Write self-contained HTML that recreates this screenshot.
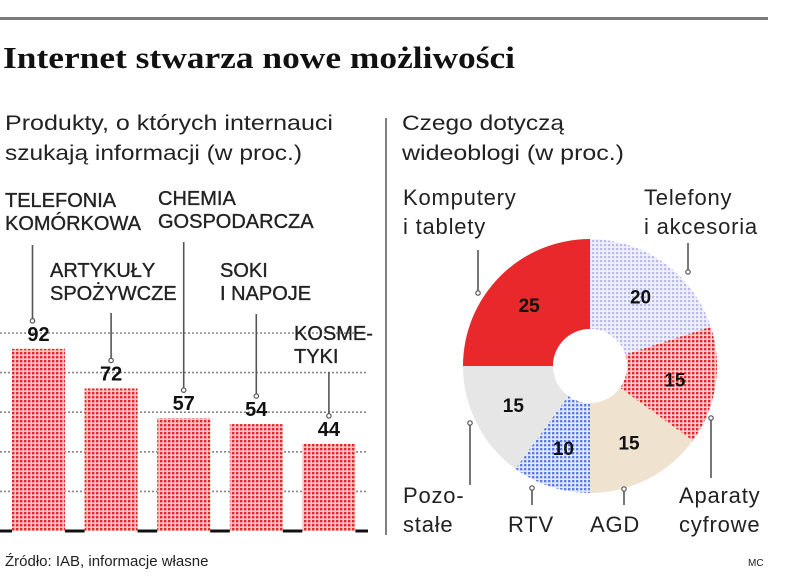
<!DOCTYPE html>
<html><head><meta charset="utf-8"><style>
html,body{margin:0;padding:0;background:#fff;}
svg{display:block;font-family:"Liberation Sans",sans-serif;}
</style></head><body>
<svg id="c" width="805" height="582" viewBox="0 0 805 582">
<defs>
<pattern id="pRed" width="4" height="4" patternUnits="userSpaceOnUse"><rect width="4" height="4" fill="#f7c9c9"/><rect width="2.4" height="2.4" fill="#e2282a"/></pattern>
<pattern id="pRed2" width="4" height="4" patternUnits="userSpaceOnUse"><rect width="4" height="4" fill="#f6d2d2"/><rect width="2.4" height="2.4" fill="#e02a2a"/></pattern>
<pattern id="pLav" width="4" height="4" patternUnits="userSpaceOnUse"><rect width="4" height="4" fill="#f0f0fb"/><rect width="2.2" height="2.2" fill="#b9b9ee"/></pattern>
<pattern id="pBlue" width="4" height="4" patternUnits="userSpaceOnUse"><rect width="4" height="4" fill="#e6ebfb"/><rect width="2.4" height="2.4" fill="#5e7be6"/></pattern>
</defs>
<rect x="0" y="17" width="768" height="3" fill="#7a7a7a"/>
<text x="3" y="68" font-family="Liberation Serif,serif" font-weight="bold" font-size="31" fill="#111" textLength="512" lengthAdjust="spacingAndGlyphs">Internet stwarza nowe możliwości</text>
<g font-size="21" fill="#222">
<text x="5" y="130" textLength="328" lengthAdjust="spacingAndGlyphs">Produkty, o których internauci</text>
<text x="5" y="160" textLength="297" lengthAdjust="spacingAndGlyphs">szukają informacji (w proc.)</text></g>
<g font-size="21" fill="#222">
<text x="402" y="130" textLength="162" lengthAdjust="spacingAndGlyphs">Czego dotyczą</text>
<text x="402" y="160" textLength="222" lengthAdjust="spacingAndGlyphs">wideoblogi (w proc.)</text></g>
<line x1="386" y1="118" x2="386" y2="535" stroke="#555" stroke-width="1.5"/>
<g id="bars"></g>
<g id="pie"></g>
<text x="5" y="566" font-size="15" fill="#222">Źródło: IAB, informacje własne</text>
<text x="748" y="566" font-size="10" fill="#222">MC</text>
</svg>
<script>
const categories = ["TELEFONIA KOMÓRKOWA","ARTYKUŁY SPOŻYWCZE","CHEMIA GOSPODARCZA","SOKI I NAPOJE","KOSMETYKI"];
const values = [92,72,57,54,44];
const gridTicks = [20,40,60,80,100];
const pieLabels = ["Telefony i akcesoria","Aparaty cyfrowe","AGD","RTV","Pozostałe","Komputery i tablety"];
const pieValues = [20,15,15,10,15,25];

const NS="http://www.w3.org/2000/svg";
function mk(t,a,p){const e=document.createElementNS(NS,t);for(const k in a)e.setAttribute(k,a[k]);p.appendChild(e);return e;}
const bars=document.getElementById('bars');
const y0=531, k=1.98;
const Y=v=>y0-v*k;
const X=i=>12+i*72.6;
const bw=53;
gridTicks.forEach(t=>{
  const l=mk('line',{x1:0,x2:368,y1:Y(t),y2:Y(t),stroke:'#888','stroke-width':1.6,'stroke-dasharray':'2 2'},bars);
  
  
});
const lab=[[["TELEFONIA","KOMÓRKOWA"],5,207,245],[["ARTYKUŁY","SPOŻYWCZE"],50,277,313],[["CHEMIA","GOSPODARCZA"],158,205,242],[["SOKI","I NAPOJE"],220,277,314],[["KOSME-","TYKI"],294,340,372]];
values.forEach((v,i)=>{
  const x=X(i);
  const r=mk('rect',{x:x,y:Y(v),width:bw,height:v*k,fill:'url(#pRed)'},bars);
  
  
  const vt=mk('text',{x:x+bw/2,y:Y(v)-8,'text-anchor':'middle','font-size':20,'font-weight':'bold',fill:'#111'},bars);
  vt.textContent=v;
  
  
  const L=lab[i];
  const g=mk('g',{'font-size':20,fill:'#222',stroke:'#222','stroke-width':0.35},bars);
  
  
  L[0].forEach((s,j)=>{const t=mk('text',{x:L[1],y:L[2]+j*23},g);t.textContent=s;});
  const lx=x+bw/2-(i==0?6:0), ly2=Y(v)-28;
  mk('line',{x1:lx,x2:lx,y1:L[3],y2:ly2,stroke:'#555','stroke-width':1.6},g);
  mk('circle',{cx:lx,cy:ly2,r:2.2,fill:'#fff',stroke:'#555','stroke-width':1.2},g);
});
for(let i=0;i<=values.length;i++){
  const xs=i==0?0:X(i-1)+bw, xe=i==values.length?368:X(i);
  const b=mk('line',{x1:xs,x2:xe,y1:y0,y2:y0,stroke:'#111','stroke-width':3},bars);
  
  
}
const pie=document.getElementById('pie');
const cx=590,cy=366,R=127,r0=37;
const fills=['url(#pLav)','url(#pRed2)','#efe2cf','url(#pBlue)','#e6e6e6','#e8282a'];
const total=pieValues.reduce((a,b)=>a+b,0);
let acc=0;
const P=(a,rr)=>[cx+rr*Math.sin(a),cy-rr*Math.cos(a)];
pieValues.forEach((v,i)=>{
  const a0=acc/total*2*Math.PI, a1=(acc+v)/total*2*Math.PI; acc+=v;
  const lg=(a1-a0)>Math.PI?1:0;
  const [x0,y0a]=P(a0,R),[x1,y1]=P(a1,R),[x2,y2]=P(a1,r0),[x3,y3]=P(a0,r0);
  const s=mk('path',{d:`M${x0},${y0a}A${R},${R} 0 ${lg} 1 ${x1},${y1}L${x2},${y2}A${r0},${r0} 0 ${lg} 0 ${x3},${y3}Z`,fill:fills[i]},pie);
  
  
  const am=(a0+a1)/2,[tx,ty]=P(am,(R+r0)/2+4);
  const t=mk('text',{x:tx,y:ty+7,'text-anchor':'middle','font-size':19,'font-weight':'bold',fill:'#111'},pie);
  t.textContent=v;
  
  
});
mk('circle',{cx:cx,cy:cy,r:r0,fill:'#fff'},pie);
const pl=[[["Telefony","i akcesoria"],644,205,688,243,272],[["Aparaty","cyfrowe"],679,503,711,478,418],[["AGD"],590,532,624,505,489],[["RTV"],508,532,532,505,488],[["Pozo-","stałe"],403,503,470,485,423],[["Komputery","i tablety"],403,205,478,250,293]];
pl.forEach((L,i)=>{
  const g=mk('g',{'font-size':22,fill:'#222','letter-spacing':0.8},pie);
  
  
  L[0].forEach((s,j)=>{const t=mk('text',{x:L[1],y:L[2]+j*29},g);t.textContent=s;});
  mk('line',{x1:L[3],x2:L[3],y1:L[4],y2:L[5],stroke:'#555','stroke-width':1.6},g);
  mk('circle',{cx:L[3],cy:L[5],r:2.2,fill:'#fff',stroke:'#555','stroke-width':1.2},g);
});
</script>
</body></html>
